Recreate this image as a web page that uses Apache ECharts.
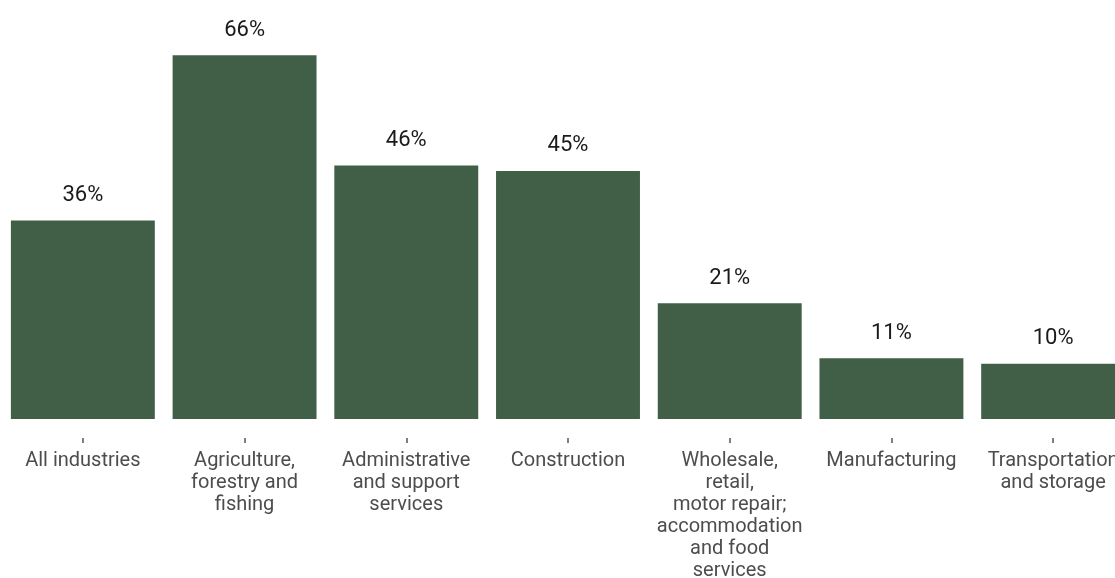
<!DOCTYPE html>
<html><head><meta charset="utf-8">
<script src="https://cdn.jsdelivr.net/npm/echarts@6/dist/echarts.min.js"></script>
<style>html,body{margin:0;padding:0;background:#fff}#c{width:1115px;height:578px}</style>
</head><body><div id="c"></div>
<script>
const categories = ["All industries","Agriculture,\nforestry and\nfishing","Administrative\nand support\nservices","Construction","Wholesale,\nretail,\nmotor repair;\naccommodation\nand food\nservices","Manufacturing","Transportation\nand storage"];
const values = [36, 66, 46, 45, 21, 11, 10];
const chart = echarts.init(document.getElementById('c'), null, {renderer:'canvas'});
chart.setOption({
  animation:false,
  grid:{left:2, top:0, width:1132, height:419, containLabel:false, outerBoundsMode:'none'},
  xAxis:{type:'category', data:categories,
    axisLine:{show:false},
    axisTick:{show:true, alignWithLabel:true, length:24, lineStyle:{color:'#555', width:1.5, type:[5,19], dashOffset:5}},
    axisLabel:{interval:0, margin:31, color:'#4d4d4d', fontSize:20, lineHeight:22, fontFamily:'Roboto, Liberation Sans, Arial, sans-serif', align:'center'}},
  yAxis:{type:'value', min:0, max:76, show:false, splitLine:{show:false}},
  series:[{type:'bar', data:values, barWidth:'89%', itemStyle:{color:'#415f46'},
    label:{show:true, position:'top', distance:14, formatter:'{c}%', color:'#1a1a1a', fontSize:22, fontFamily:'Roboto, Liberation Sans, Arial, sans-serif'}}]
});
</script></body></html>
